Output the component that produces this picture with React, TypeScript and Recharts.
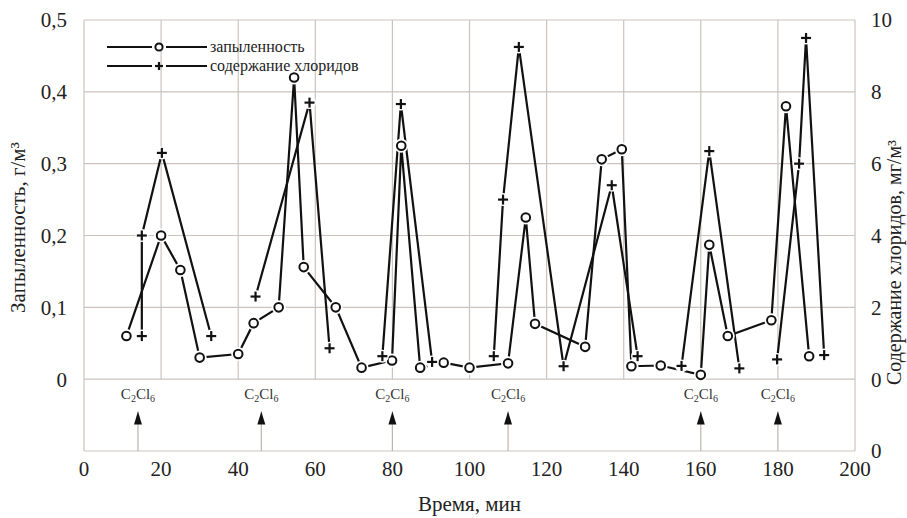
import { ComposedChart, Line, XAxis, YAxis, CartesianGrid, ReferenceLine, Legend } from 'recharts'

const dustTime = [11, 20, 25, 30, 40, 44, 50.5, 54.5, 57, 65.3, 72, 79.9, 82.3, 87.2, 93.3, 100, 110, 114.6, 117, 130, 134.3, 139.5, 142, 149.6, 160, 162.2, 167, 178.3, 182.1, 188.1]
const dustValue = [0.06, 0.2, 0.152, 0.03, 0.035, 0.078, 0.1, 0.42, 0.156, 0.1, 0.016, 0.026, 0.325, 0.016, 0.023, 0.016, 0.022, 0.225, 0.077, 0.045, 0.306, 0.32, 0.018, 0.019, 0.006, 0.187, 0.06, 0.082, 0.38, 0.032]

// null = break in the chloride line between injections
const chlorTime = [15, 15, 20.2, 33, 38, 44.5, 58.5, 63.7, 70, 77.4, 82.2, 90.3, 98, 106.3, 108.7, 112.8, 124.4, 136.9, 143.6, 150, 155, 162.2, 170, 175, 179.8, 185.5, 187.3, 192]
const chlorValue = [1.2, 4.0, 6.3, 1.2, null, 2.3, 7.7, 0.86, null, 0.64, 7.66, 0.48, null, 0.64, 5.0, 9.25, 0.36, 5.4, 0.64, null, 0.37, 6.35, 0.3, null, 0.55, 6.0, 9.5, 0.67]

const reagentTime = [14, 46, 80, 110, 160, 180]
const timeTicks = [0, 20, 40, 60, 80, 100, 120, 140, 160, 180, 200]
const gridTime = [20, 40, 60, 80, 100, 120, 140, 160, 180]
const dustTicks = [-0.1, 0, 0.1, 0.2, 0.3, 0.4, 0.5]
const chlorTicks = [-2, 0, 2, 4, 6, 8, 10]

const dustData = dustTime.map((t, i) => ({ t, v: dustValue[i] }))
const chlorData = chlorTime.map((t, i) => ({ t, v: chlorValue[i] }))

const INK = '#111'
const GRID = '#cbc3bd'
const SERIF = 'Liberation Serif'

const CircleDot = (p: any) => {
  if (p.cy == null || isNaN(p.cy)) return <g key={p.key ?? p.index} />
  return (
    <g key={p.key ?? p.index}>
      <circle cx={p.cx} cy={p.cy} r={7} fill="#fff" />
      <circle cx={p.cx} cy={p.cy} r={4.3} fill="#fff" stroke={INK} strokeWidth={2} />
    </g>
  )
}

const PlusDot = (p: any) => {
  if (p.cy == null || isNaN(p.cy)) return <g key={p.key ?? p.index} />
  const { cx, cy } = p
  return (
    <g key={p.key ?? p.index}>
      <circle cx={cx} cy={cy} r={6.5} fill="#fff" />
      <line x1={cx - 5} y1={cy} x2={cx + 5} y2={cy} stroke={INK} strokeWidth={2.2} />
      <line x1={cx} y1={cy - 5} x2={cx} y2={cy + 5} stroke={INK} strokeWidth={2.2} />
    </g>
  )
}

const fmtDust = (v: number) => (v < 0 ? '' : v === 0 ? '0' : v.toFixed(1).replace('.', ','))
const fmtChlor = (v: number) => (v < 0 ? '0' : String(v))

const tickStyle = { fontSize: 21, fill: '#222', fontFamily: SERIF, style: { fontFamily: SERIF } }

const reagentLabel = ({ viewBox }: any) => {
  const { x, y } = viewBox
  return (
    <g>
      <polygon points={`${x - 4},${y + 13} ${x + 4},${y + 13} ${x},${y}`} fill={INK} />
      <text x={x} y={y - 12} textAnchor="middle" fontSize={15} fill="#333" style={{ fontFamily: SERIF }}>
        C<tspan fontSize={10} dy={3}>2</tspan><tspan dy={-3}>Cl</tspan><tspan fontSize={10} dy={3}>6</tspan>
      </text>
    </g>
  )
}

const leftTitle = ({ viewBox }: any) => {
  const x = viewBox.x + 18
  const y = viewBox.y + viewBox.height / 2 - 8
  return (
    <text x={x} y={y} transform={`rotate(-90 ${x} ${y})`} textAnchor="middle" dominantBaseline="central"
      fontSize={21} fill="#222" style={{ fontFamily: SERIF }}>
      Запыленность, г/м³
    </text>
  )
}

const rightTitle = ({ viewBox }: any) => {
  const x = viewBox.x + 39
  const y = viewBox.y + viewBox.height / 2 + 27
  return (
    <text x={x} y={y} transform={`rotate(-90 ${x} ${y})`} textAnchor="middle" dominantBaseline="central"
      fontSize={20} fill="#222" style={{ fontFamily: SERIF }}>
      Содержание хлоридов,  мг/м³
    </text>
  )
}

const legendContent = ({ payload }: any) => (
  <svg width={260} height={40} style={{ fontFamily: SERIF }}>
    {(payload || []).map((e: any, i: number) => {
      const y = 10 + i * 19
      return (
        <g key={i}>
          <line x1={7} y1={y} x2={52} y2={y} stroke={INK} strokeWidth={2.2} />
          <line x1={66} y1={y} x2={107} y2={y} stroke={INK} strokeWidth={2.2} />
          {i === 0
            ? <circle cx={59} cy={y} r={3.6} fill="#fff" stroke={INK} strokeWidth={2} />
            : <g>
                <line x1={55} y1={y} x2={63} y2={y} stroke={INK} strokeWidth={2.2} />
                <line x1={59} y1={y - 4} x2={59} y2={y + 4} stroke={INK} strokeWidth={2.2} />
              </g>}
          <text x={110} y={y + 5} fontSize={16} fill="#222" style={{ fontFamily: SERIF }}>{e.value}</text>
        </g>
      )
    })}
  </svg>
)

export default function App() {
  return (
    <div style={{ position: 'absolute', left: 0, top: 0, fontFamily: SERIF, background: '#fff' }}>
      <ComposedChart width={907} height={518} margin={{ top: 20, right: 0, left: 0, bottom: 0 }} style={{ fontFamily: SERIF }}>
        <CartesianGrid yAxisId="left" vertical={false} stroke={GRID} strokeWidth={1.2} />
        <XAxis dataKey="t" type="number" domain={[0, 200]} ticks={timeTicks} allowDuplicatedCategory={false}
          axisLine={false} tickLine={false} height={67} tickMargin={4} tick={tickStyle}
          label={{ value: 'Время, мин', position: 'insideBottom', offset: 7, fontSize: 21, fill: '#222', style: { fontFamily: SERIF } }} />
        <YAxis yAxisId="left" type="number" domain={[-0.1, 0.5]} ticks={dustTicks} tickFormatter={fmtDust}
          axisLine={false} tickLine={false} width={84} tickMargin={11} tick={tickStyle} label={leftTitle} />
        <YAxis yAxisId="right" orientation="right" type="number" domain={[-2, 10]} ticks={chlorTicks} tickFormatter={fmtChlor}
          axisLine={false} tickLine={false} width={52} tickMargin={10} tick={tickStyle} label={rightTitle} />
        <ReferenceLine yAxisId="left" x={0} stroke={GRID} strokeWidth={1.2} />
        <ReferenceLine yAxisId="left" x={200} stroke={GRID} strokeWidth={1.2} />
        {gridTime.map(t => (
          <ReferenceLine key={'g' + t} yAxisId="left" segment={[{ x: t, y: 0 }, { x: t, y: 0.5 }]} stroke={GRID} strokeWidth={1.2} />
        ))}
        {reagentTime.map(t => (
          <ReferenceLine key={'r' + t} yAxisId="left" segment={[{ x: t, y: -0.1 }, { x: t, y: -0.045 }]}
            stroke="#bdb5b0" strokeWidth={1.2} label={reagentLabel} />
        ))}
        <Legend layout="horizontal" align="center" verticalAlign="middle" content={legendContent}
          wrapperStyle={{ left: 100, top: 37, width: 260 }} />
        <Line yAxisId="left" data={dustData} dataKey="v" name="запыленность" type="linear"
          stroke={INK} strokeWidth={2.2} dot={CircleDot} activeDot={false} isAnimationActive={false} />
        <Line yAxisId="right" data={chlorData} dataKey="v" name="содержание хлоридов" type="linear"
          stroke={INK} strokeWidth={2.2} dot={PlusDot} activeDot={false} connectNulls={false} isAnimationActive={false} />
      </ComposedChart>
    </div>
  )
}
